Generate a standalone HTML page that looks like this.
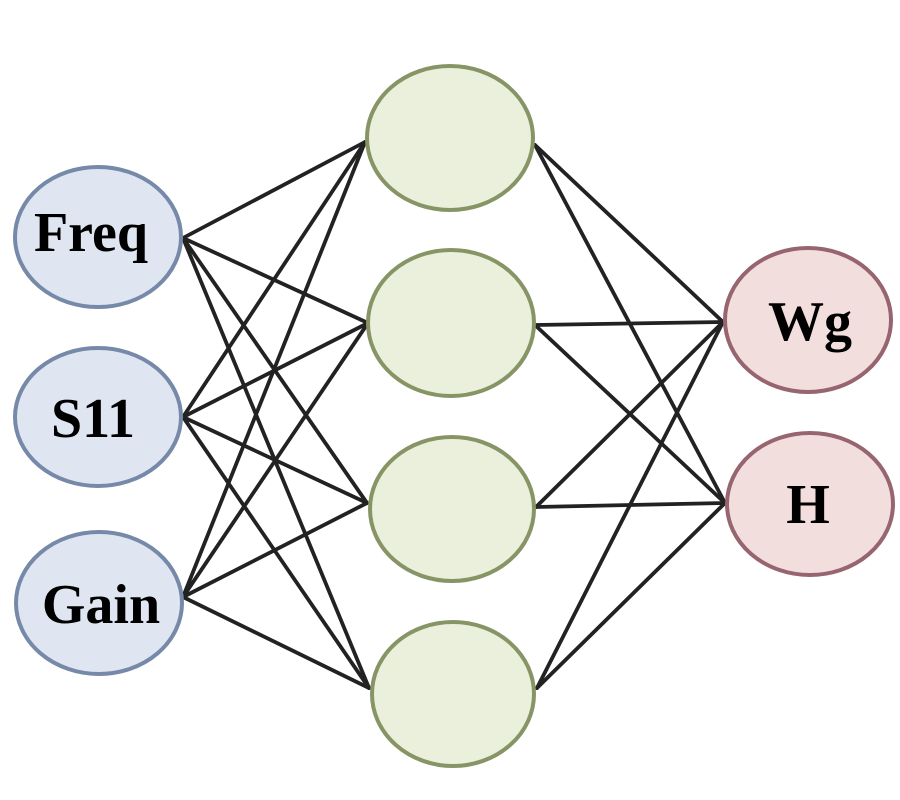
<!DOCTYPE html>
<html><head><meta charset="utf-8"><style>
html,body{margin:0;padding:0;background:#fff;}
svg{display:block;}
text{font-family:"Liberation Serif",serif;font-weight:bold;font-size:56px;fill:#000;}
</style></head><body>
<svg width="900" height="800" viewBox="0 0 900 800" xmlns="http://www.w3.org/2000/svg">
<rect width="900" height="800" fill="#fff"/>
<g stroke="#222" stroke-width="3.8" stroke-linecap="round" fill="none">
<!-- input to hidden -->
<line x1="183" y1="238" x2="365" y2="142"/>
<line x1="183" y1="238" x2="368" y2="323"/>
<line x1="183" y1="238" x2="367" y2="503"/>
<line x1="183" y1="238" x2="369" y2="688"/>
<line x1="183" y1="417" x2="365" y2="142"/>
<line x1="183" y1="417" x2="368" y2="323"/>
<line x1="183" y1="417" x2="367" y2="503"/>
<line x1="183" y1="417" x2="369" y2="688"/>
<line x1="183" y1="597" x2="365" y2="142"/>
<line x1="183" y1="597" x2="368" y2="323"/>
<line x1="183" y1="597" x2="367" y2="503"/>
<line x1="183" y1="597" x2="369" y2="688"/>
<!-- hidden to output -->
<line x1="535" y1="145" x2="723" y2="322"/>
<line x1="535" y1="145" x2="725" y2="503"/>
<line x1="535" y1="325" x2="723" y2="322"/>
<line x1="535" y1="325" x2="725" y2="503"/>
<line x1="536" y1="507" x2="723" y2="322"/>
<line x1="536" y1="507" x2="725" y2="503"/>
<line x1="537" y1="688" x2="723" y2="322"/>
<line x1="537" y1="688" x2="725" y2="503"/>
</g>
<g stroke-width="4">
<ellipse cx="98" cy="237" rx="83" ry="70" fill="#dfe6f1" stroke="#7689a8"/>
<ellipse cx="98" cy="417" rx="83" ry="69" fill="#dfe6f1" stroke="#7689a8"/>
<ellipse cx="99" cy="603" rx="83" ry="71" fill="#dfe6f1" stroke="#7689a8"/>
<ellipse cx="450" cy="138" rx="83" ry="72" fill="#eaf0dc" stroke="#879566"/>
<ellipse cx="451" cy="323" rx="83" ry="73" fill="#eaf0dc" stroke="#879566"/>
<ellipse cx="452" cy="509" rx="82" ry="72" fill="#eaf0dc" stroke="#879566"/>
<ellipse cx="453" cy="694" rx="81" ry="72" fill="#eaf0dc" stroke="#879566"/>
<ellipse cx="808" cy="320" rx="83" ry="72" fill="#f3dede" stroke="#976570"/>
<ellipse cx="810" cy="504" rx="83" ry="71" fill="#f3dede" stroke="#976570"/>
</g>
<text x="91" y="251" text-anchor="middle">Freq</text>
<text x="93" y="437" text-anchor="middle">S11</text>
<text x="101" y="623" text-anchor="middle">Gain</text>
<text x="810" y="340" text-anchor="middle">Wg</text>
<text x="808" y="523" text-anchor="middle">H</text>
</svg>
</body></html>
